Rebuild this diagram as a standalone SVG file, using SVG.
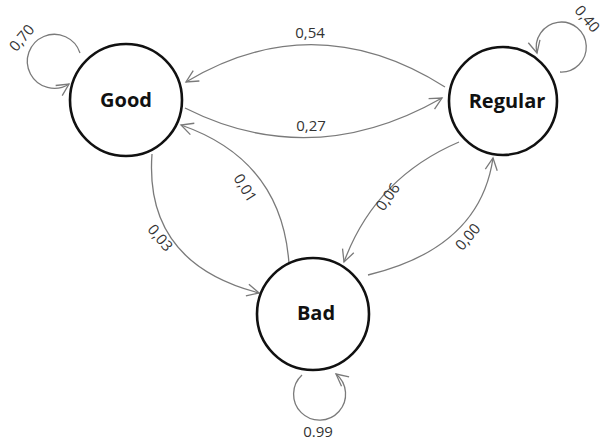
<svg xmlns="http://www.w3.org/2000/svg" width="604" height="441" viewBox="0 0 604 441">
<style>
.node{fill:#fff;stroke:#111;stroke-width:2.6}
.nl{font-family:"Open Sans","Liberation Sans",sans-serif;font-weight:bold;font-size:20px;fill:#111;text-anchor:middle}
.e{fill:none;stroke:#7a7a7a;stroke-width:1.3;marker-end:url(#ah)}
.el{font-family:"Open Sans","Liberation Sans",sans-serif;font-size:15px;fill:#333;text-anchor:middle}
</style>
<defs>
<marker id="ah" markerUnits="userSpaceOnUse" markerWidth="16" markerHeight="16" refX="13" refY="7" orient="auto" viewBox="0 0 16 14">
<path d="M1,1 L13,7 L1,13" fill="none" stroke="#7a7a7a" stroke-width="1.3"/>
</marker>
</defs>
<rect width="604" height="441" fill="#fff"/>
<g id="connectors">
<path class="e" d="M445,87 Q315,5 186,82"/>
<path class="e" d="M185,108 Q312,172 442,98"/>
<path class="e" d="M289,264 Q282,160 181,125"/>
<path class="e" d="M152,154 Q144,263 259,293"/>
<path class="e" d="M459,142 Q375,178 344,262"/>
<path class="e" d="M368,275 Q480,248 493,158"/>
<path class="e" d="M80,53 A27,27 0 1 0 69,84"/>
<path class="e" d="M560,72 A25,25 0 1 0 537,53"/>
<path class="e" d="M302,375 A26,26 0 1 0 336,374"/>
<text class="el" x="310" y="38">0,54</text>
<text class="el" x="311" y="131">0,27</text>
<text class="el" transform="translate(245,188) rotate(58)" y="5">0,01</text>
<text class="el" transform="translate(160,238) rotate(50)" y="5">0,03</text>
<text class="el" transform="translate(388,197) rotate(-55)" y="5">0,06</text>
<text class="el" transform="translate(468,237) rotate(-50)" y="5">0,00</text>
<text class="el" transform="translate(22,38) rotate(-50)" y="5">0,70</text>
<text class="el" transform="translate(587,19) rotate(50)" y="5">0,40</text>
<text class="el" x="318" y="437">0.99</text>
</g>
<g id="good"><circle class="node" cx="126" cy="100" r="56"/><text class="nl" x="126" y="107">Good</text></g>
<g id="regular"><circle class="node" cx="503" cy="101" r="54"/><text class="nl" x="507" y="108">Regular</text></g>
<g id="bad"><circle class="node" cx="313" cy="314" r="56"/><text class="nl" x="316" y="320">Bad</text></g>
</svg>
